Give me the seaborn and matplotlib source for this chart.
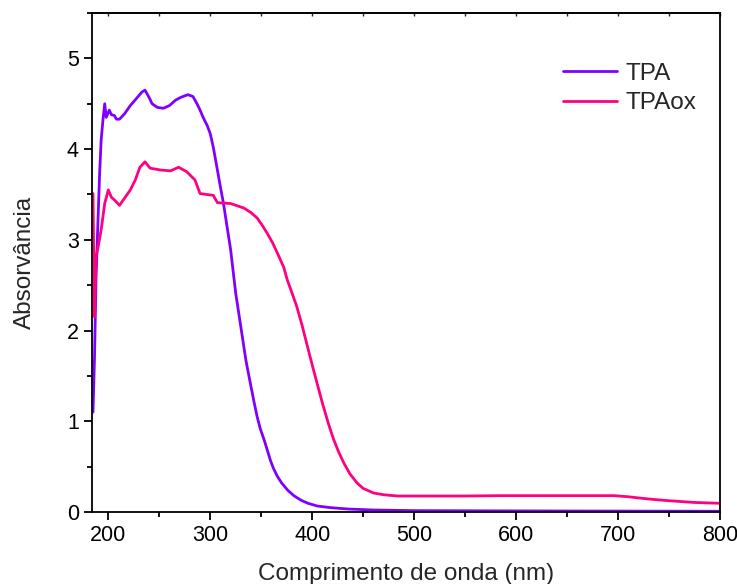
import pandas as pd
import matplotlib
import matplotlib.pyplot as plt
from matplotlib.ticker import MultipleLocator
matplotlib.use("Agg")
import seaborn as sns

# TPA spectrum
wl_tpa = [185, 186.5, 188, 190, 191.5, 193, 195, 196.5, 198, 201, 203, 206,
          208, 211, 216, 221.6, 227, 233, 236, 240, 243, 248, 254, 260, 266,
          271, 278, 283, 287, 290, 293, 297, 300, 303, 307, 310, 313, 316,
          320, 325, 330, 335, 340, 343, 346, 349, 353, 356, 359, 362, 366,
          370, 376, 382, 389, 396, 405, 418, 435, 460, 500, 600, 700, 800]
abs_tpa = [1.10, 1.71, 2.59, 3.25, 3.73, 4.10, 4.35, 4.50, 4.35, 4.43, 4.38,
           4.37, 4.33, 4.33, 4.39, 4.48, 4.55, 4.63, 4.65, 4.57, 4.50, 4.46,
           4.45, 4.48, 4.54, 4.57, 4.60, 4.58, 4.50, 4.43, 4.35, 4.26, 4.17,
           4.02, 3.77, 3.58, 3.40, 3.18, 2.89, 2.41, 2.04, 1.67, 1.38, 1.21,
           1.05, 0.92, 0.79, 0.68, 0.57, 0.48, 0.39, 0.32, 0.24, 0.18, 0.13,
           0.095, 0.066, 0.048, 0.033, 0.022, 0.015, 0.012, 0.010, 0.008]

# TPAox spectrum
wl_ox = [185, 185.5, 186.5, 188, 190, 193, 196.5, 200, 203, 206, 211, 216,
         221.6, 226.5, 231, 236, 241, 251, 261, 269, 277, 285, 290, 303, 307,
         320, 333, 340, 346, 351, 356, 361, 366, 372, 375.5, 380, 385, 390,
         395, 400, 405, 410, 416, 421, 426, 431, 437, 444, 450, 460, 470,
         484, 546, 585, 650, 696, 710, 720, 735, 749, 775, 800]
abs_ox = [3.51, 3.00, 2.15, 2.81, 2.92, 3.11, 3.40, 3.55, 3.47, 3.44, 3.38,
          3.46, 3.55, 3.66, 3.80, 3.86, 3.79, 3.77, 3.76, 3.80, 3.75, 3.66,
          3.51, 3.49, 3.41, 3.40, 3.35, 3.30, 3.24, 3.16, 3.07, 2.97, 2.85,
          2.70, 2.56, 2.42, 2.26, 2.06, 1.84, 1.62, 1.41, 1.20, 0.97, 0.80,
          0.66, 0.54, 0.42, 0.32, 0.26, 0.21, 0.19, 0.176, 0.176, 0.18, 0.18,
          0.18, 0.168, 0.155, 0.138, 0.125, 0.105, 0.096]

sns.set_theme(style="ticks")
plt.rcParams["font.family"] = ["Liberation Sans", "DejaVu Sans"]

fig = plt.figure(figsize=(7.37, 5.84), dpi=100)
ax = fig.add_axes([0.1248, 0.1233, 0.8522, 0.8544])

sns.lineplot(x=wl_tpa, y=abs_tpa, ax=ax, color="#7f00ff", lw=2, label="TPA")
sns.lineplot(x=wl_ox, y=abs_ox, ax=ax, color="#ff0080", lw=2, label="TPAox")

ax.set_xlim(184, 800)
ax.set_ylim(0, 5.5)
ax.xaxis.set_major_locator(MultipleLocator(100))
ax.xaxis.set_minor_locator(MultipleLocator(50))
ax.yaxis.set_major_locator(MultipleLocator(1))
ax.yaxis.set_minor_locator(MultipleLocator(0.5))

for s in ax.spines.values():
    s.set_color("black")
    s.set_linewidth(1.3)

ax.tick_params(which="major", length=6, width=1.3, labelsize=15.5, colors="black")
ax.tick_params(which="minor", length=3.5, width=1.3, colors="black")
ax.tick_params(axis="y", which="both", right=False)

# small inward ticks along the top edge, no labels
sec = ax.secondary_xaxis("top")
sec.set_xticks(range(200, 801, 50))
sec.tick_params(direction="in", length=2.5, width=1, labeltop=False)
sec.spines["top"].set_linewidth(1.3)

ax.set_xlabel("Comprimento de onda (nm)", fontsize=17.5, labelpad=12)
ax.set_ylabel("Absorvância", fontsize=17.5, labelpad=22)

ax.legend(loc="upper left", bbox_to_anchor=(0.75, 0.9), frameon=False,
          fontsize=17.5, handlelength=2.2, handletextpad=0.35,
          labelspacing=0.3, borderpad=0, borderaxespad=0)

plt.savefig("out.png", dpi=100)
